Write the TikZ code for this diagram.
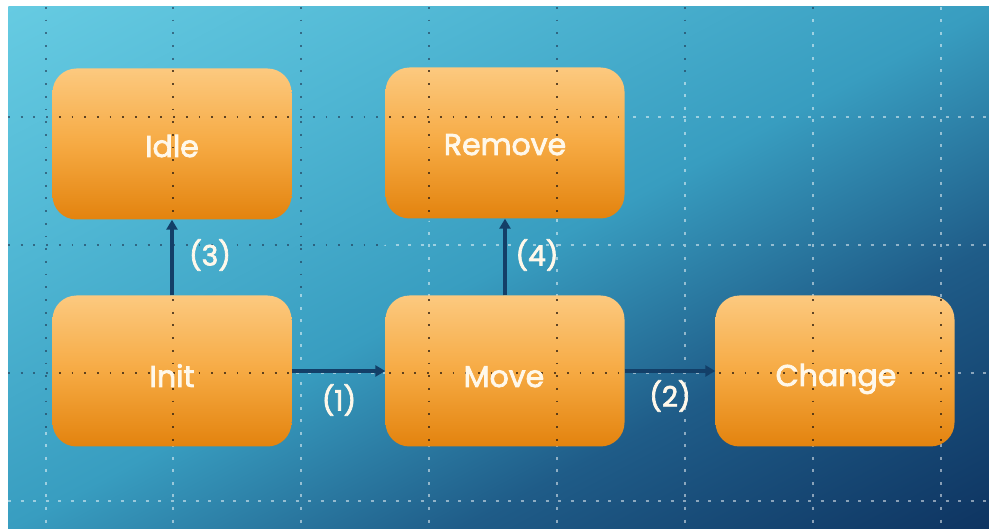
\documentclass[tikz,border=0pt]{standalone}
\usepackage{fontspec}
\setmainfont{Poppins}
\newfontfamily\boxfont[FakeBold=2.5]{Poppins}
\usetikzlibrary{arrows.meta}
\definecolor{bgA}{HTML}{66CBE2}
\definecolor{bgE}{HTML}{4FB6D3}
\definecolor{bgB}{HTML}{389DC0}
\definecolor{bgD}{HTML}{1F5C88}
\definecolor{bgC}{HTML}{0E3461}
\definecolor{boxT}{HTML}{FCC97F}
\definecolor{boxM}{HTML}{F6AA43}
\definecolor{boxB}{HTML}{E3830E}
\definecolor{txt}{HTML}{FFF8EA}
\definecolor{arr}{HTML}{133F68}
\definecolor{dotdark}{HTML}{1E3550}
\pgfdeclareverticalshading{bgshade}{100bp}{color(0bp)=(bgC); color(25bp)=(bgC); color(38.5bp)=(bgD); color(50bp)=(bgB); color(62.5bp)=(bgE); color(75bp)=(bgA); color(100bp)=(bgA)}
\begin{document}
\begin{tikzpicture}[x=1pt,y=-1pt,
  statebox/.style={rounded corners=24pt, minimum width=239pt, minimum height=151pt,
    top color=boxT, bottom color=boxB, middle color=boxM, inner sep=0pt},
  boxtext/.style={font=\boxfont\fontsize{30}{32}\selectfont, text=txt, anchor=base, inner sep=0pt},
  conn/.style={draw=arr, line width=3.2pt, -{Triangle[length=10pt,width=11pt]}},
  lab/.style={font=\boxfont\fontsize{28}{32}\selectfont, text=txt, inner sep=0pt},
  gridlight/.style={draw=white, opacity=0.5, line width=1.7pt, dash pattern=on 3pt off 9.5pt},
  griddark/.style={draw=dotdark, opacity=0.6, line width=1.7pt, dash pattern=on 1.8pt off 10.9pt}
]
\useasboundingbox (0,0) rectangle (989,529);
\fill[white] (0,0) rectangle (989,529);
\begin{scope}
  \clip (8,7) rectangle (989,529);
  \begin{scope}[transform canvas={rotate around={28:(498.5,268)}}]
    \shade[shading=bgshade] (-57.5,-193) rectangle (1054.5,729);
  \end{scope}
\end{scope}

% guide grid
\def\gridpath{
  \foreach \gx in {46,173,301,429,557,685,813,941} {(\gx,7) -- (\gx,529)}
  \foreach \gy in {117,245,373,501} {(8,\gy) -- (989,\gy)}
}
\begin{scope}
  \clip (0,455) -- (835,0) -- (989,0) -- (989,529) -- (0,529) -- cycle;
  \path[gridlight] \gridpath;
\end{scope}
\begin{scope}
  \clip (0,0) -- (835,0) -- (0,455) -- cycle;
  \path[griddark] \gridpath;
\end{scope}

% states
\node[statebox] (idle)   at (172,144) {};
\node[statebox] (remove) at (505,143) {};
\node[statebox] (init)   at (172,371) {};
\node[statebox] (move)   at (505,371) {};
\node[statebox] (change) at (835,371) {};

\begin{scope}
  \clip[rounded corners=24pt]
    (idle.north west) rectangle (idle.south east)
    (remove.north west) rectangle (remove.south east)
    (init.north west) rectangle (init.south east)
    (move.north west) rectangle (move.south east)
    (change.north west) rectangle (change.south east);
  \path[griddark, opacity=0.8, draw=black!70!brown] \gridpath;
\end{scope}

% texts
\node[boxtext] (tidle)   at (172,157) {Idle};
\node[boxtext] (tremove) at (505,155) {Remove};
\node[boxtext] (tinit)   at (172,387) {Init};
\node[boxtext] (tmove)   at (504,387) {Move};
\node[boxtext] (tchange) at (836,386) {Change};

% transitions
\draw[conn] (init.north) -- (idle.south);
\draw[conn] (move.north) -- (remove.south);
\draw[conn] (init.east) -- (move.west);
\draw[conn] (move.east) -- (change.west);

\node[lab] (l3) at (210,255) {(3)};
\node[lab] (l4) at (537,255) {(4)};
\node[lab] (l1) at (339,400) {(1)};
\node[lab] (l2) at (670,396) {(2)};
\end{tikzpicture}
\end{document}
